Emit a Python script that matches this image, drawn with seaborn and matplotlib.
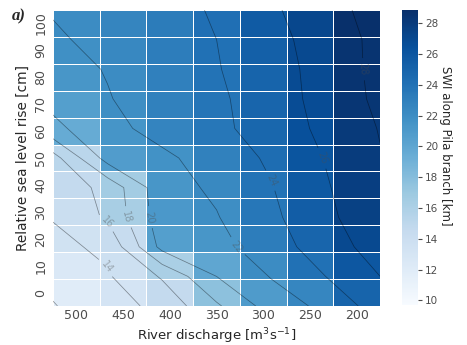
import numpy as np
import pandas as pd
import matplotlib
matplotlib.use("Agg")
import matplotlib.pyplot as plt
import seaborn as sns

# River discharge scenarios [m3/s] and relative sea level rise [cm]
discharge = [500, 450, 400, 350, 300, 250, 200]
sea_level_rise = [100, 90, 80, 70, 60, 50, 40, 30, 20, 10, 0]

# Salt water intrusion length along the Pila branch [km], one row per sea level rise
swi_100 = [22.1, 22.6, 23.3, 24.2, 25.7, 27.2, 28.85]
swi_90 = [21.8, 22.4, 23.2, 24.0, 25.3, 27.0, 28.5]
swi_80 = [21.3, 22.1, 23.0, 23.9, 25.0, 26.9, 28.5]
swi_70 = [20.6, 21.9, 22.9, 23.7, 24.9, 26.8, 28.4]
swi_60 = [19.5, 21.4, 22.7, 23.6, 24.8, 26.5, 28.1]
swi_50 = [15.2, 20.8, 21.6, 22.9, 24.3, 26.1, 27.9]
swi_40 = [14.6, 16.6, 21.3, 22.3, 23.9, 25.8, 27.8]
swi_30 = [14.1, 16.3, 21.1, 21.9, 23.6, 25.5, 27.6]
swi_20 = [13.5, 14.4, 20.6, 21.3, 23.2, 24.9, 27.0]
swi_10 = [12.5, 13.8, 16.2, 20.0, 22.1, 24.0, 26.0]
swi_0 = [11.9, 13.1, 14.6, 17.7, 20.9, 22.5, 25.0]

contour_levels = [12, 14, 16, 18, 20, 22, 24, 26, 28]
color_min = 9.7

swi = pd.DataFrame(
    [swi_100, swi_90, swi_80, swi_70, swi_60, swi_50,
     swi_40, swi_30, swi_20, swi_10, swi_0],
    index=sea_level_rise, columns=discharge,
)

sns.set_style("white")
plt.rcParams["font.family"] = ["DejaVu Sans"]

fig = plt.figure(figsize=(4.67, 3.45), dpi=100)
ax = fig.add_axes([0.1135, 0.113, 0.7005, 0.858])
cax = fig.add_axes([0.861, 0.116, 0.034, 0.855])

sns.heatmap(
    swi, ax=ax, cbar_ax=cax, cmap="Blues", vmin=color_min,
    linewidths=0.6, linecolor="white",
)

# Iso-lines of the same field, spread over the whole panel
nrow, ncol = swi.shape
gx = np.linspace(0, ncol, ncol)
gy = np.linspace(0, nrow, nrow)
cs = ax.contour(gx, gy, swi.values, levels=contour_levels,
                colors="k", linewidths=0.55, alpha=0.4)
ax.clabel(cs, fmt="%d", fontsize=7, colors="0.3")

ax.set_xlabel("River discharge [m$^3$s$^{-1}$]", fontsize=9.5, color=".15",
              labelpad=3)
ax.set_ylabel("Relative sea level rise [cm]", fontsize=9.8, color=".15",
              labelpad=3)
ax.tick_params(axis="x", labelsize=9, labelcolor=".3", rotation=0,
               length=0, pad=2.5)
ax.tick_params(axis="y", labelsize=9, labelcolor=".3", rotation=90,
               length=0, pad=4)
for lbl in ax.get_yticklabels():
    lbl.set_va("center")

cax.set_yticks(np.arange(10, 29, 2))
cax.tick_params(labelsize=7.5, labelcolor=".3", length=3, color=".3", pad=2)
cax.set_ylabel("SWI along Pila branch [km]", rotation=270,
               fontsize=8.5, color=".15")
cax.yaxis.set_label_coords(3.15, 0.54)

fig.text(0.026, 0.94, "a)", fontsize=12, fontweight="bold", fontstyle="italic",
         family="Liberation Serif")

fig.savefig("out.png", dpi=100)
